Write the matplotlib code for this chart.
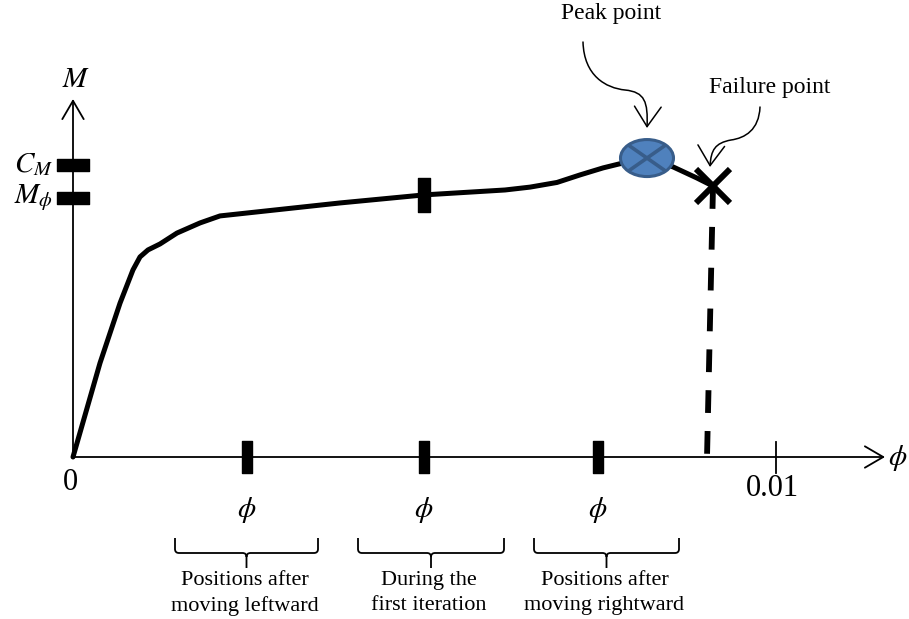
import numpy as np
import matplotlib
matplotlib.use("Agg")
import matplotlib.pyplot as plt
from matplotlib.patches import Ellipse, FancyArrowPatch, PathPatch
from matplotlib.path import Path

# -----------------------------
# Data (curvature phi, moment M)
# -----------------------------
phi_curve = [0.0, 0.000384, 0.000669, 0.000853, 0.000953, 0.001067, 0.001238,
             0.001479, 0.001807, 0.002091, 0.003798, 0.004993, 0.006146,
             0.006501, 0.006885, 0.007212, 0.007539, 0.007824, 0.008165,
             0.008535, 0.008876, 0.009104]
m_curve = [0.0, 0.362, 0.593, 0.721, 0.771, 0.798, 0.821,
           0.863, 0.902, 0.929, 0.979, 1.010, 1.029,
           1.040, 1.058, 1.087, 1.114, 1.133, 1.152,
           1.118, 1.075, 1.044]

peak = (0.008165, 1.152)
failure = (0.009104, 1.044)
phi_positions = [0.002475, 0.004993, 0.007468]   # leftward, first iteration, rightward
phi_tick_label = 0.01
m_levels = {"$C_M$": 1.127, "$M_\\phi$": 1.0}

group_texts = ["Positions after\nmoving leftward",
               "During the\nfirst iteration",
               "Positions after\nmoving rightward"]

# -----------------------------
# Layout: pixel grid of the 909x619 picture
# -----------------------------
W, H = 909, 619
X0, Y0 = 73, 457          # origin in pixels
SX, SY = 70300.0, 259.5   # pixels per unit phi / unit M


def P(px, py):
    """pixel position (top-left origin) -> data coords"""
    return ((px - X0) / SX, (Y0 - py) / SY)


plt.rcParams["font.family"] = ["Liberation Serif", "DejaVu Serif"]
plt.rcParams["mathtext.fontset"] = "stix"

fig = plt.figure(figsize=(W / 100, H / 100), dpi=100)
ax = fig.add_axes([0, 0, 1, 1])
ax.set_xlim(-X0 / SX, (W - X0) / SX)
ax.set_ylim(-(H - Y0) / SY, Y0 / SY)
ax.axis("off")

# axes with open arrow heads
ax_arrow = dict(arrowstyle="->,head_length=0.6,head_width=0.35", lw=1.3,
                color="black", mutation_scale=22, shrinkA=0, shrinkB=0)
ax.annotate("", xy=P(885, Y0), xytext=(0, 0), arrowprops=ax_arrow)
ax.annotate("", xy=P(X0, 99), xytext=(0, 0), arrowprops=ax_arrow)

ax.text(*P(898, 458), r"$\phi$", fontsize=21, ha="center", va="center")
ax.text(*P(76, 80), r"$M$", fontsize=21, ha="center", va="center")
ax.text(*P(70, 482), "0", fontsize=22, ha="center", va="center")

# thin tick at 0.01
ax.plot([phi_tick_label, phi_tick_label], [P(0, 442)[1], P(0, 473)[1]],
        color="black", lw=1.3)
ax.text(phi_tick_label - 4 / SX, P(0, 488)[1], "0.01", fontsize=22,
        ha="center", va="center")

# thick bar markers
vbar = Path([(-11, -32), (11, -32), (11, 32), (-11, 32), (-11, -32)], closed=True)
hbar = Path([(-31, -11), (31, -11), (31, 11), (-31, 11), (-31, -11)], closed=True)

for lab, m in m_levels.items():
    ax.plot([0], [m], marker=hbar, ms=23, color="black", mec="black", zorder=5)
    ax.text(P(53, 0)[0], m, lab, fontsize=21, ha="right", va="center")

ax.plot(phi_positions, [0] * len(phi_positions), ls="none", marker=vbar,
        ms=23, color="black", zorder=5)
for x in phi_positions:
    ax.text(x, P(0, 510)[1], r"$\phi$", fontsize=21, ha="center", va="center")

# moment-curvature curve
ax.plot(phi_curve, m_curve, color="black", lw=3.6, solid_joinstyle="round",
        solid_capstyle="round", zorder=3)
mid = phi_positions[1]
ax.plot([mid], [np.interp(mid, phi_curve, m_curve)], marker=vbar, ms=24,
        color="black", zorder=5)

# failure: dashed drop + X
ax.plot([failure[0], failure[0] - 6 / SX], [failure[1], 0], color="black",
        lw=4.2, dashes=(3.9, 3.1), dash_capstyle="butt", zorder=3)
ax.plot([failure[0]], [failure[1]], marker="x", ms=25, mew=4.3,
        color="black", zorder=6)

# peak ellipse with cross
ea, eb = 26.5 / SX, 18.5 / SY
ax.add_patch(Ellipse(peak, 2 * ea, 2 * eb, facecolor="#4f81bd",
                     edgecolor="#385d8a", lw=2.2, zorder=6))
c = np.cos(np.pi / 4)
for s in (1, -1):
    ax.plot([peak[0] - ea * c, peak[0] + ea * c],
            [peak[1] - s * eb * c, peak[1] + s * eb * c],
            color="#385d8a", lw=2.6, solid_capstyle="butt", zorder=7)

# callouts
ax.text(*P(611, 14), "Peak point", fontsize=17, ha="center", va="center")
ax.text(*P(770, 87), "Failure point", fontsize=17, ha="center", va="center")

call_style = "->,head_length=0.6,head_width=0.4"
peak_path = Path([P(583, 42), P(584, 76), P(606, 88), P(625, 90),
                  P(645, 92), P(648, 102), P(647, 128)],
                 [Path.MOVETO, Path.CURVE4, Path.CURVE4, Path.CURVE4,
                  Path.CURVE4, Path.CURVE4, Path.CURVE4])
fail_path = Path([P(760, 107), P(759, 130), P(745, 138), P(731, 140),
                  P(715, 143), P(711, 150), P(710, 167)],
                 [Path.MOVETO, Path.CURVE4, Path.CURVE4, Path.CURVE4,
                  Path.CURVE4, Path.CURVE4, Path.CURVE4])
for pth in (peak_path, fail_path):
    ax.add_patch(FancyArrowPatch(path=pth, arrowstyle=call_style,
                                 mutation_scale=24, lw=1.1, color="black",
                                 zorder=8))

# braces under the phi positions
brace_spans = [(175, 318), (358, 504), (534, 679)]
yt, yb, ytip = 538, 553, 568
for (l, r), txt in zip(brace_spans, group_texts):
    m = (l + r) / 2
    verts = [P(l, yt), P(l, yb - 4), P(l, yb), P(l + 4, yb),
             P(m - 4, yb), P(m, yb), P(m, yb + 4), P(m, ytip),
             P(m, yb + 4), P(m, yb), P(m + 4, yb),
             P(r - 4, yb), P(r, yb), P(r, yb - 4), P(r, yt)]
    codes = [Path.MOVETO, Path.LINETO, Path.CURVE3, Path.CURVE3,
             Path.LINETO, Path.CURVE3, Path.CURVE3, Path.LINETO,
             Path.MOVETO, Path.CURVE3, Path.CURVE3,
             Path.LINETO, Path.CURVE3, Path.CURVE3, Path.LINETO]
    ax.add_patch(PathPatch(Path(verts, codes), fill=False, lw=1.3,
                           edgecolor="black"))
    ax.text(*P(m - 2, 571), txt, fontsize=16, ha="center", va="top",
            linespacing=1.4)

fig.savefig("out.png", dpi=100)
